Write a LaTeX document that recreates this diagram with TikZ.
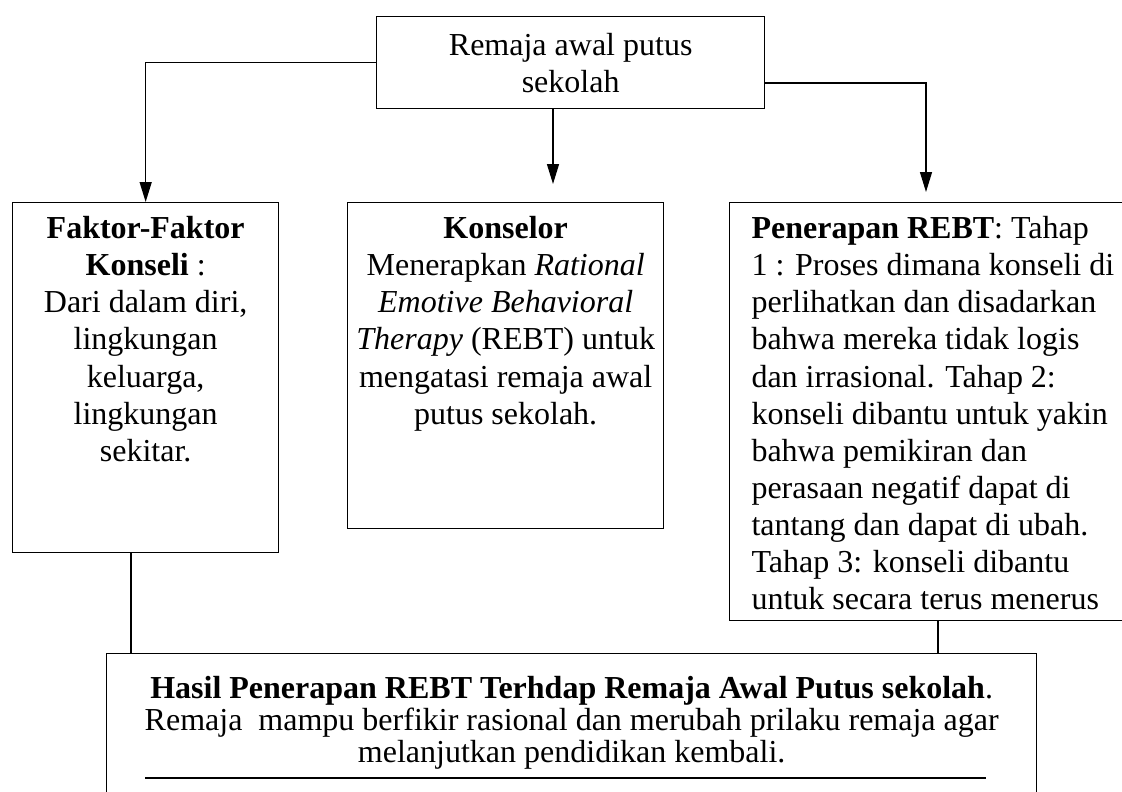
\documentclass[tikz,border=0pt]{standalone}
\usepackage{fontspec}
\setmainfont{Liberation Serif}
\usetikzlibrary{arrows.meta,calc}

\begin{document}
\begin{tikzpicture}[
  x=0.375pt, y=-0.375pt,
  box/.style={draw, line width=0.5pt, inner sep=0pt},
  words/.style={font=\fontsize{12}{13.9}\selectfont, inner sep=0pt},
  link/.style={line width=0.5pt},
  flow/.style={link, -{Triangle[width=4.5pt,length=7.5pt]}},
]

%--- page frame ---------------------------------------------------------
\useasboundingbox (0,0) rectangle (1122,792);
\clip (0,0) rectangle (1122,792);

%--- boxes --------------------------------------------------------------
\node[box, words, align=center, minimum width=145.5pt, minimum height=34.5pt,
  anchor=north west] (awal) at (376,16) {Remaja awal putus\\sekolah};

\node[box, minimum width=99.75pt, minimum height=131.25pt, anchor=north west] (faktor) at (12,202) {};
\node[box, minimum width=118.5pt, minimum height=122.25pt, anchor=north west] (konselor) at (347,202) {};
\node[box, minimum width=151pt, minimum height=156.75pt, anchor=north west] (rebt) at (729,202) {};
\node[box, minimum width=348.75pt, minimum height=60pt, anchor=north west] (hasil) at (106,653) {};

%--- texts in the boxes -------------------------------------------------
\node[words, align=center, anchor=north] (faktor-isi) at ($(faktor.north)+(0,14)$)
  {\textbf{Faktor-Faktor}\\\textbf{Konseli} :\\Dari dalam diri,\\lingkungan\\keluarga,\\lingkungan\\sekitar.};

\node[words, align=center, anchor=north] (konselor-isi) at ($(konselor.north)+(0,14)$)
  {\textbf{Konselor}\\Menerapkan \textit{Rational}\\\textit{Emotive Behavioral}\\\textit{Therapy} (REBT) untuk\\mengatasi remaja awal\\putus sekolah.};

\node[words, align=left, anchor=north west] (rebt-isi) at ($(rebt.north west)+(22,14)$)
  {\textbf{Penerapan REBT}: Tahap\\1 : Proses dimana konseli di\\perlihatkan dan disadarkan\\bahwa mereka tidak logis\\dan irrasional. Tahap 2:\\konseli dibantu untuk yakin\\bahwa pemikiran dan\\perasaan negatif dapat di\\tantang dan dapat di ubah.\\Tahap 3: konseli dibantu\\untuk secara terus menerus};

\node[words, font=\fontsize{12}{12}\selectfont, align=center, anchor=north] (hasil-isi) at ($(hasil.north)+(0,23)$)
  {\textbf{Hasil Penerapan REBT Terhdap Remaja Awal Putus sekolah}.\\Remaja\ \ mampu berfikir rasional dan merubah prilaku remaja agar\\melanjutkan pendidikan kembali.};

% line under the result text
\draw[line width=0.6pt] ($(hasil.north west)+(39,125)$) -- ($(hasil.north west)+(880,125)$);

%--- arrows from the top box --------------------------------------------
\coordinate (tengah) at (553,184);
\coordinate (kanan) at (926,192);
\draw[flow] (awal.west) -| (faktor.north);
\draw[flow] (awal.south -| tengah) -- (tengah);
\draw[flow] ($(awal.north east)+(0,67)$) -| (kanan);

%--- lines down to the result box ---------------------------------------
\coordinate (kiri) at ($(faktor.south west)+(119,0)$);
\coordinate (bawah) at ($(rebt.south west)+(209,0)$);
\draw[link] (kiri) -- (kiri |- hasil.north);
\draw[link] (bawah) -- (bawah |- hasil.north);

\end{tikzpicture}
\end{document}
